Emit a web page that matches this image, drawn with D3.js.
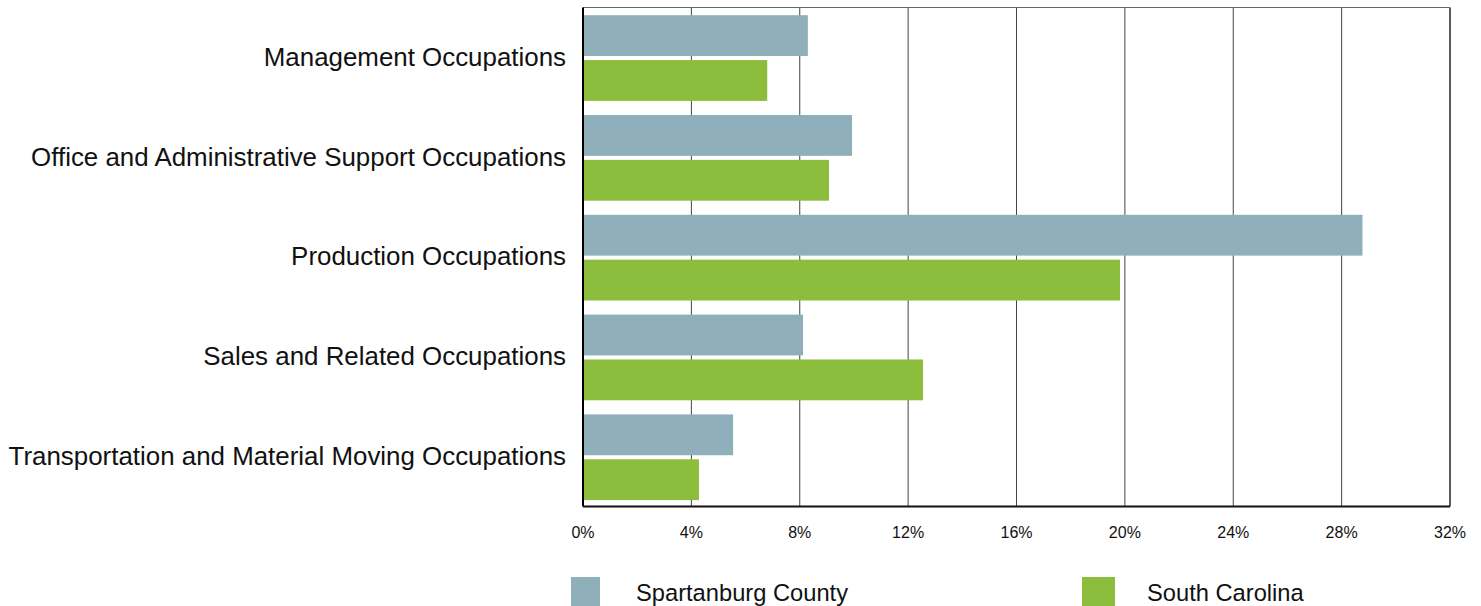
<!DOCTYPE html>
<html>
<head>
<meta charset="utf-8">
<script src="https://cdn.jsdelivr.net/npm/d3@7"></script>
<style>
  body { margin: 0; background: #fff; }
  svg { display: block; font-family: "Liberation Sans", Arial, sans-serif; }
</style>
</head>
<body>
<div id="chart"></div>
<script>
const categories = [
  "Management Occupations",
  "Office and Administrative Support Occupations",
  "Production Occupations",
  "Sales and Related Occupations",
  "Transportation and Material Moving Occupations"
];
const seriesNames = ["Spartanburg County", "South Carolina"];
const spartanburgValues = [8.3, 9.93, 28.77, 8.12, 5.54];
const southCarolinaValues = [6.8, 9.08, 19.82, 12.55, 4.28];
const tickValues = [0, 4, 8, 12, 16, 20, 24, 28, 32];
const colors = ["#8fafba", "#8dbd3c"];

const width = 1481, height = 606;
const margin = {top: 7.5, right: 31, bottom: 99.5, left: 583};

const svg = d3.select("#chart").append("svg")
  .attr("width", width)
  .attr("height", height);

const x = d3.scaleLinear()
  .domain([0, 32])
  .range([margin.left, width - margin.right]);

const y0 = d3.scaleBand()
  .domain(categories)
  .range([margin.top, height - margin.bottom]);

const y1 = d3.scaleBand()
  .domain(seriesNames)
  .range([7.7, y0.bandwidth() - 6.4])
  .paddingInner(0.09);

// gridlines
svg.append("g")
  .selectAll("line")
  .data(tickValues.slice(1))
  .join("line")
  .attr("x1", d => x(d)).attr("x2", d => x(d))
  .attr("y1", margin.top).attr("y2", height - margin.bottom)
  .attr("stroke", d => d === 32 ? "#333" : "#444")
  .attr("stroke-width", d => d === 32 ? 1.6 : 1);

// top border
svg.append("line")
  .attr("x1", x(0)).attr("x2", x(32))
  .attr("y1", margin.top).attr("y2", margin.top)
  .attr("stroke", "#666").attr("stroke-width", 1.2);

const rows = categories.map((c, i) => ({
  cat: c,
  vals: [spartanburgValues[i], southCarolinaValues[i]]
}));

const groups = svg.append("g")
  .selectAll("g")
  .data(rows)
  .join("g")
  .attr("transform", d => `translate(0,${y0(d.cat)})`);

groups.selectAll("rect")
  .data(d => d.vals.map((v, j) => ({name: seriesNames[j], value: v, j})))
  .join("rect")
  .attr("x", x(0))
  .attr("y", d => y1(d.name))
  .attr("width", d => x(d.value) - x(0))
  .attr("height", y1.bandwidth())
  .attr("fill", d => colors[d.j]);

// category labels
svg.append("g")
  .selectAll("text")
  .data(categories)
  .join("text")
  .attr("x", 566)
  .attr("y", d => y0(d) + y0.bandwidth() / 2 + 1.5)
  .attr("text-anchor", "end")
  .attr("dominant-baseline", "middle")
  .attr("font-size", 25.9)
  .attr("fill", "#111")
  .text(d => d);

// axes lines
svg.append("line")
  .attr("x1", x(0)).attr("x2", x(0))
  .attr("y1", margin.top).attr("y2", height - margin.bottom)
  .attr("stroke", "#000").attr("stroke-width", 2);
svg.append("line")
  .attr("x1", x(0)).attr("x2", x(32))
  .attr("y1", height - margin.bottom).attr("y2", height - margin.bottom)
  .attr("stroke", "#111").attr("stroke-width", 2);

// tick labels
svg.append("g")
  .selectAll("text")
  .data(tickValues)
  .join("text")
  .attr("x", d => x(d))
  .attr("y", 538)
  .attr("text-anchor", "middle")
  .attr("font-size", 16)
  .attr("fill", "#111")
  .text(d => d + "%");

// legend
const legendX = [571, 1082];
const legend = svg.append("g")
  .selectAll("g")
  .data(seriesNames)
  .join("g")
  .attr("transform", (d, i) => `translate(${legendX[i]},577)`);
legend.append("rect")
  .attr("width", (d, i) => i === 0 ? 29 : 33)
  .attr("height", 29)
  .attr("fill", (d, i) => colors[i]);
legend.append("text")
  .attr("x", 65)
  .attr("y", 24)
  .attr("font-size", 23.7)
  .attr("fill", "#111")
  .text(d => d);
</script>
</body>
</html>
